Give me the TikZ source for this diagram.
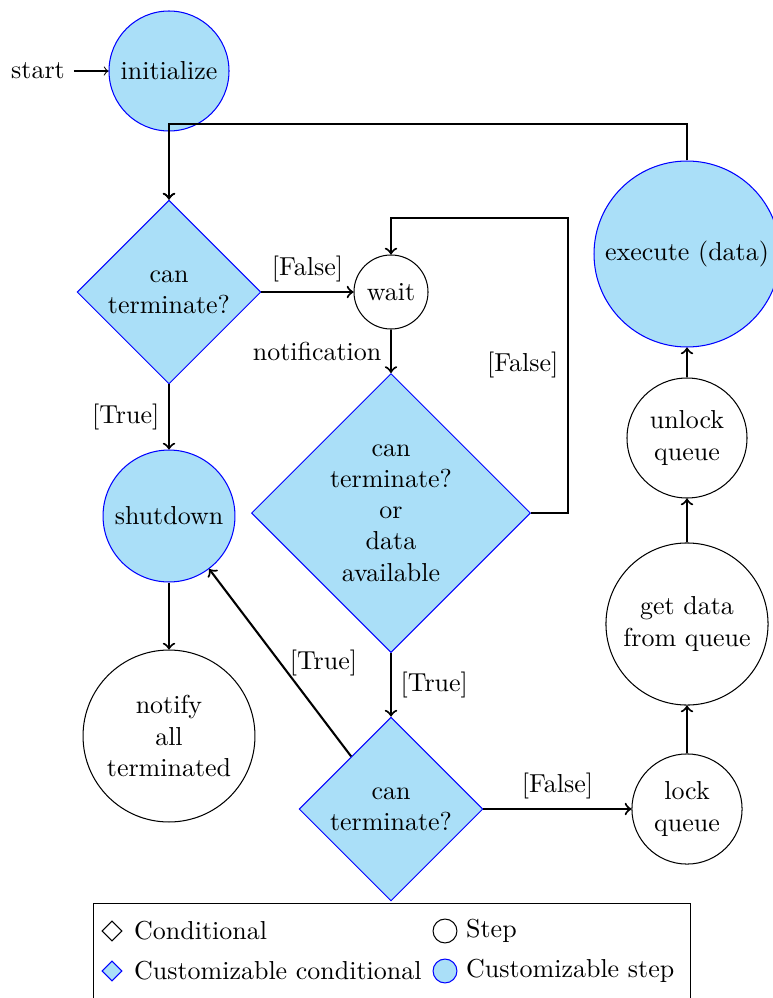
\documentclass[tikz,border=0pt]{standalone}
\usetikzlibrary{shapes.geometric}
\definecolor{custfill}{RGB}{170,223,248}
\begin{document}
\begin{tikzpicture}[x=0.385pt,y=-0.385pt,
  stp/.style={circle,draw,thin,inner sep=0pt,align=center},
  cstp/.style={stp,draw=blue,fill=custfill},
  cond/.style={diamond,aspect=1,draw=blue,thin,fill=custfill,inner sep=0pt,align=center},
  flow/.style={thick,->},
  icond/.style={diamond,aspect=1,draw,thin,inner sep=0pt,minimum size=7.7pt},
  istep/.style={circle,draw,thin,inner sep=0pt,minimum size=9.2pt}]
\useasboundingbox (0,0) rectangle (772,998);

% nodes
\node (start) at (38,71) {start};
\node[cstp,minimum size=46.2pt] (init) at (169,71) {initialize};
\node[cond,minimum size=70.8pt] (c1) at (169,292) {can\\terminate?};
\node[stp,minimum size=28.5pt] (wait) at (391,292) {wait};
\node[cond,minimum size=107.4pt] (c2) at (391,513) {can\\terminate?\\or\\data\\available};
\node[cstp,minimum size=50.8pt] (shut) at (169,516) {shutdown};
\node[stp,minimum size=66.2pt] (notify) at (169,736) {notify\\all\\terminated};
\node[cond,minimum size=70.8pt] (c3) at (391,809) {can\\terminate?};
\node[stp,minimum size=42.4pt] (lock) at (687,809) {lock\\queue};
\node[stp,minimum size=62.4pt] (get) at (687,624) {get data\\from queue};
\node[stp,minimum size=46.2pt] (unlock) at (687,438) {unlock\\queue};
\node[cstp,minimum size=71.6pt] (exec) at (687,254) {execute (data)};

\coordinate (j1) at (169,124);
\coordinate (r1) at (568,218);

% connectors
\draw[->] (start) -- (init);
\draw[flow] (init) -- (c1);
\draw[flow] (exec.north) |- (j1) -- (c1.north);
\draw[flow] (c1) -- node[above] {[False]} (wait);
\draw[flow] (wait) -- node[left] {notification} (c2);
\draw[flow] (c2.east) -| node[pos=0.75,left] {[False]} (r1) -| (wait.north);
\draw[flow] (c1) -- node[left] {[True]} (shut);
\draw[flow] (shut) -- (notify);
\draw[flow] (c2) -- node[right] {[True]} (c3);
\draw[flow] (c3) -- node[right] {[True]} (shut);
\draw[flow] (c3) -- node[above] {[False]} (lock);
\draw[flow] (lock) -- (get);
\draw[flow] (get) -- (unlock);
\draw[flow] (unlock) -- (exec);

% legend
\node[draw,thin,anchor=north west,minimum width=229.8pt,minimum height=50pt] (legend) at (93,903) {};
\node[icond] (li1) at (112,931) {};
\node[anchor=west] (lt1) at (125,931) {Conditional};
\node[icond,draw=blue,fill=custfill] (li2) at (112,971) {};
\node[anchor=west] (lt2) at (125,971) {Customizable conditional};
\node[istep] (li3) at (445,931) {};
\node[anchor=west] (lt3) at (457,931) {Step};
\node[istep,draw=blue,fill=custfill] (li4) at (445,971) {};
\node[anchor=west] (lt4) at (457,971) {Customizable step};
\end{tikzpicture}
\end{document}
